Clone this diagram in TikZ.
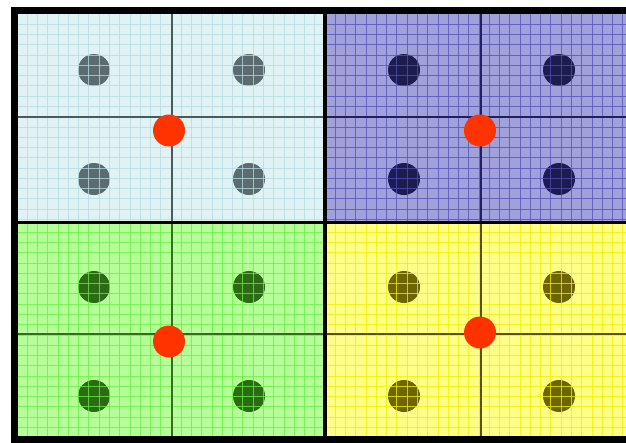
\documentclass[tikz,border=0pt]{standalone}
\usetikzlibrary{calc}
\definecolor{tlbg}{HTML}{E0F2F4}\definecolor{tlgrid}{HTML}{B2DCE0}\definecolor{tldot}{HTML}{5B6B6F}\definecolor{tlcross}{HTML}{4A5A5C}
\definecolor{trbg}{HTML}{A0A0DA}\definecolor{trgrid}{HTML}{5050B8}\definecolor{trdot}{HTML}{1C1C50}\definecolor{trcross}{HTML}{202060}
\definecolor{blbg}{HTML}{B6FF98}\definecolor{blgrid}{HTML}{66EE44}\definecolor{bldot}{HTML}{2C6A14}\definecolor{blcross}{HTML}{3A6A24}
\definecolor{brbg}{HTML}{FFFF88}\definecolor{brgrid}{HTML}{F0F000}\definecolor{brdot}{HTML}{6E6400}\definecolor{brcross}{HTML}{5A5010}
\definecolor{reddot}{HTML}{FF3300}
\tikzset{
  gridline/.style={line width=0.9pt},
  crossline/.style={line width=2.5pt},
  dotc/.style={radius=16},
  frame/.style={line width=7pt, black}
}
% #1 x0, #2 y0, #3 x1, #4 y1, #5 cross x, #6 cross y, #7 prefix, #8 dot x1, #9 dot y1 (second column/row +155/+109)
\newcommand\myquad[9]{%
  \fill[#7bg] (#1,#2) rectangle (#3,#4);
  \fill[#7dot] (#8,#9) circle[dotc];
  \fill[#7dot] ($(#8,#9)+(155,0)$) circle[dotc];
  \fill[#7dot] ($(#8,#9)+(0,109)$) circle[dotc];
  \fill[#7dot] ($(#8,#9)+(155,109)$) circle[dotc];
  \foreach \i in {1,...,30}{
    \pgfmathsetmacro\xx{#1+10.27*\i}
    \ifdim\xx pt<#3pt \draw[gridline,#7grid,opacity=0.75] (\xx,#2) -- (\xx,#4);\fi
  }
  \foreach \i in {1,...,21}{
    \pgfmathsetmacro\yy{#2+10.27*\i}
    \ifdim\yy pt<#4pt \draw[gridline,#7grid,opacity=0.75] (#1,\yy) -- (#3,\yy);\fi
  }
  \draw[crossline,#7cross] (#5,#2) -- (#5,#4);
  \draw[crossline,#7cross] (#1,#6) -- (#3,#6);
}
\begin{document}
\begin{tikzpicture}[x=1pt,y=-1pt]
\useasboundingbox (0,0) rectangle (626,442);
\fill[white] (0,0) rectangle (626,442);
\myquad{17}{14}{325}{222}{172}{117}{tl}{94}{70}
\myquad{325}{14}{626}{222}{481}{117}{tr}{404}{70}
\myquad{17}{222}{325}{437}{172}{334}{bl}{94}{287}
\myquad{325}{222}{626}{437}{481}{334}{br}{404}{287}
\fill[reddot] (169,130.5) circle[dotc];
\fill[reddot] (480,130.5) circle[dotc];
\fill[reddot] (169,341.5) circle[dotc];
\fill[reddot] (480,332.5) circle[dotc];
% frame
\draw[line width=3.5pt] (325,14) -- (325,437);
\draw[line width=3.5pt] (17,222.5) -- (626,222.5);
\draw[frame] (626,10.5) -- (14,10.5) -- (14,439.5) -- (626,439.5);
\end{tikzpicture}
\end{document}
